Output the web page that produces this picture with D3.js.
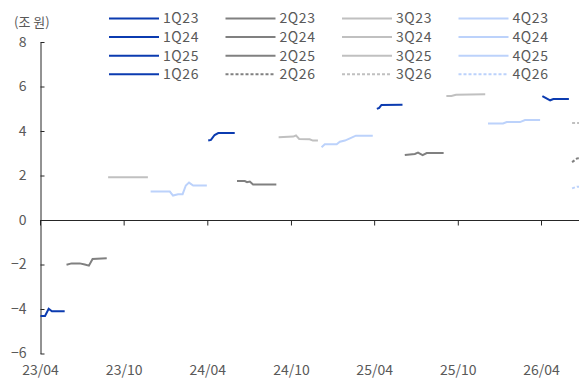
<!DOCTYPE html>
<html>
<head>
<meta charset="utf-8">
<script src="https://cdn.jsdelivr.net/npm/d3@7"></script>
<style>
  body { margin: 0; background: #fff; }
  text { font-family: "Noto Sans CJK KR", "Noto Sans", sans-serif; fill: #595959; }
</style>
</head>
<body>
<svg width="579" height="384"></svg>
<script>
// quarter names, one line each
const quarters = ["1Q23", "2Q23", "3Q23", "4Q23",
                  "1Q24", "2Q24", "3Q24", "4Q24",
                  "1Q25", "2Q25", "3Q25", "4Q25",
                  "1Q26", "2Q26", "3Q26", "4Q26"];

// consensus path for each quarter [date, 조 원]
const series = {
  "1Q23": [["2023-04-02", -4.31], ["2023-04-12", -4.31], ["2023-04-20", -3.99], ["2023-04-27", -4.10], ["2023-05-25", -4.10]],
  "2Q23": [["2023-05-29", -2.01], ["2023-06-09", -1.95], ["2023-06-27", -1.95], ["2023-07-08", -2.00], ["2023-07-17", -2.05], ["2023-07-25", -1.75], ["2023-08-25", -1.72]],
  "3Q23": [["2023-08-28", 1.92], ["2023-11-23", 1.92]],
  "4Q23": [["2023-11-29", 1.28], ["2024-01-10", 1.28], ["2024-01-17", 1.10], ["2024-01-28", 1.16], ["2024-02-07", 1.16], ["2024-02-14", 1.55], ["2024-02-21", 1.68], ["2024-03-01", 1.55], ["2024-03-31", 1.55]],
  "1Q24": [["2024-04-03", 3.57], ["2024-04-09", 3.60], ["2024-04-17", 3.82], ["2024-04-25", 3.91], ["2024-05-31", 3.91]],
  "2Q24": [["2024-06-05", 1.75], ["2024-06-22", 1.75], ["2024-06-27", 1.70], ["2024-07-03", 1.73], ["2024-07-10", 1.60], ["2024-08-30", 1.60]],
  "3Q24": [["2024-09-04", 3.72], ["2024-10-06", 3.75], ["2024-10-12", 3.80], ["2024-10-19", 3.64], ["2024-11-11", 3.63], ["2024-11-18", 3.57], ["2024-11-29", 3.57]],
  "4Q24": [["2024-12-07", 3.27], ["2024-12-14", 3.40], ["2025-01-09", 3.40], ["2025-01-16", 3.52], ["2025-01-27", 3.57], ["2025-02-07", 3.67], ["2025-02-20", 3.79], ["2025-03-29", 3.79]],
  "1Q25": [["2025-04-07", 4.99], ["2025-04-12", 5.04], ["2025-04-17", 5.17], ["2025-06-02", 5.18]],
  "2Q25": [["2025-06-07", 2.92], ["2025-06-29", 2.97], ["2025-07-06", 3.03], ["2025-07-16", 2.92], ["2025-07-25", 3.01], ["2025-08-31", 3.01]],
  "3Q25": [["2025-09-06", 5.57], ["2025-09-17", 5.57], ["2025-09-27", 5.63], ["2025-11-30", 5.65]],
  "4Q25": [["2025-12-06", 4.34], ["2026-01-08", 4.34], ["2026-01-16", 4.40], ["2026-02-14", 4.40], ["2026-02-25", 4.49], ["2026-03-30", 4.49]],
  "1Q26": [["2026-04-04", 5.57], ["2026-04-21", 5.38], ["2026-04-28", 5.44], ["2026-06-01", 5.44]],
  "2Q26": [["2026-06-08", 2.60], ["2026-06-19", 2.77], ["2026-07-17", 2.80]],
  "3Q26": [["2026-06-08", 4.36], ["2026-07-17", 4.36]],
  "4Q26": [["2026-06-08", 1.42], ["2026-06-19", 1.50], ["2026-07-17", 1.50]]
};

const yTicks = [-6, -4, -2, 0, 2, 4, 6, 8];
const xTicks = ["2023-04-01", "2023-10-01", "2024-04-01", "2024-10-01", "2025-04-01", "2025-10-01", "2026-04-01"];

const parse = d3.timeParse("%Y-%m-%d");
const svg = d3.select("svg");

// colour by quarter number
const colorQ = { "1": "#0b3bb0", "2": "#808080", "3": "#c0c0c0", "4": "#bcd2fb" };
const colorOf = q => colorQ[q[0]];
const dashed = q => q.endsWith("26") && q[0] !== "1";

let x = d3.scaleTime()
  .domain([parse("2023-04-01"), parse("2026-04-01")])
  .range([40, 541]);

let y = d3.scaleLinear()
  .domain([-6, 8])
  .range([353.5, 42]);

// y axis, ticks pointing inward
svg.append("g")
  .attr("transform", "translate(40.5,0)")
  .call(d3.axisLeft(y).tickValues(yTicks).tickSize(-4).tickSizeOuter(0).tickPadding(14))
  .call(g => g.select(".domain").attr("stroke", "#262626"))
  .call(g => g.selectAll(".tick line").attr("stroke", "#262626"))
  .call(g => g.selectAll(".tick text").style("font-size", "14px").attr("fill", "#595959"));

// zero line with small ticks
let zeroAxis = svg.append("g")
  .attr("transform", `translate(0,${y(0) + 0.5})`)
  .call(d3.axisBottom(x).tickValues(xTicks.map(parse)).tickSize(5).tickSizeOuter(0).tickFormat(""));
zeroAxis.select(".domain").attr("d", `M40,0H579`).attr("stroke", "#262626");
zeroAxis.selectAll(".tick line").attr("stroke", "#262626");

// date labels at the bottom
svg.append("g")
  .attr("transform", "translate(0,362)")
  .call(d3.axisBottom(x).tickValues(xTicks.map(parse)).tickSize(0).tickFormat(d3.timeFormat("%y/%m")))
  .call(g => g.select(".domain").remove())
  .call(g => g.selectAll(".tick text").style("font-size", "14px").attr("fill", "#595959"));

svg.append("text")
  .attr("x", 14)
  .attr("y", 27)
  .style("font-size", "13px")
  .text("(조 원)");

let line = d3.line()
  .x(d => x(parse(d[0])))
  .y(d => y(d[1]));

svg.selectAll(".series")
  .data(quarters)
  .enter()
  .append("path")
  .attr("class", "series")
  .attr("fill", "none")
  .attr("stroke", q => colorOf(q))
  .attr("stroke-width", 2)
  .attr("stroke-dasharray", q => dashed(q) ? "3,2" : null)
  .attr("d", q => line(series[q]));

// legend: 4 columns by quarter, rows by year
let legend = svg.append("g").attr("class", "legend");
let item = legend.selectAll("g")
  .data(quarters)
  .enter()
  .append("g")
  .attr("transform", (q, i) => `translate(${109 + (i % 4) * 116.5},${18.5 + Math.floor(i / 4) * 18.6})`);

item.append("line")
  .attr("x1", 0).attr("x2", 50)
  .attr("stroke", q => colorOf(q))
  .attr("stroke-width", 2)
  .attr("stroke-dasharray", q => dashed(q) ? "3,2" : null);

item.append("text")
  .attr("x", 54)
  .attr("dy", "0.35em")
  .style("font-size", "14px")
  .style("letter-spacing", "0.6px")
  .text(q => q);
</script>
</body>
</html>
